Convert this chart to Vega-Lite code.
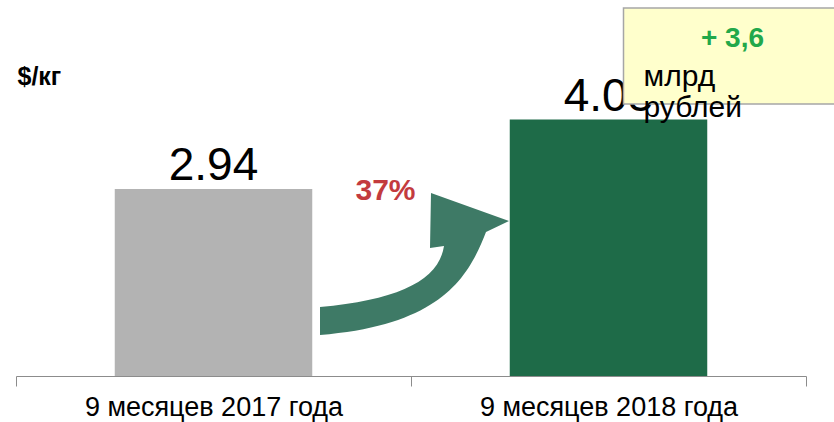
{
  "$schema": "https://vega.github.io/schema/vega-lite/v6.json",
  "width": 790,
  "height": 376,
  "autosize": {"type": "none"},
  "padding": {"left": 16, "top": 0, "right": 28, "bottom": 46},
  "background": "white",
  "config": {"view": {"stroke": null}, "font": "Liberation Sans"},
  "data": {
    "values": [
      {"period": "9 месяцев  2017 года", "value": 2.94, "year": "2017"},
      {"period": "9 месяцев 2018 года", "value": 4.03, "year": "2018"}
    ]
  },
  "layer": [
    {
      "mark": {"type": "bar", "width": {"band": 0.5}},
      "encoding": {
        "x": {
          "field": "period", "type": "nominal", "sort": null, "title": null,
          "scale": {"paddingInner": 0, "paddingOuter": 0},
          "axis": {
            "title": null, "labelAngle": 0, "tickBand": "extent", "labelLimit": 0,
            "domainColor": "#8c8c8c", "tickColor": "#8c8c8c", "tickSize": 10,
            "labelFontSize": 27, "labelColor": "#000000", "labelBaseline": "alphabetic",
            "labelPadding": 29, "labelFont": "Liberation Sans"
          }
        },
        "y": {
          "field": "value", "type": "quantitative", "title": "$/кг",
          "scale": {"domain": [0, 5.91], "nice": false},
          "axis": {
            "domain": false, "ticks": false, "labels": false, "grid": false,
            "title": "$/кг", "titleAngle": 0, "titleAlign": "left", "titleBaseline": "alphabetic",
            "titleX": 1, "titleY": 84, "titleFontSize": 25, "titleFontWeight": "bold",
            "titleColor": "#000000", "titleFont": "Liberation Sans"
          }
        },
        "color": {
          "field": "year", "type": "nominal",
          "scale": {"domain": ["2017", "2018"], "range": ["#b3b3b3", "#1e6b48"]},
          "legend": null
        }
      }
    },
    {
      "mark": {"type": "text", "fontSize": 46, "baseline": "alphabetic", "align": "center", "dy": -9, "color": "#000000"},
      "encoding": {
        "x": {"field": "period", "type": "nominal", "sort": null, "title": null},
        "y": {"field": "value", "type": "quantitative", "title": "$/кг"},
        "text": {"field": "value", "type": "quantitative", "format": ".2f"}
      }
    },
    {
      "data": {"values": [{"note": "arrow"}]},
      "mark": {
        "type": "point", "filled": true, "opacity": 1, "size": 40000, "color": "#3e7a66", "strokeWidth": 0,
        "shape": "M1.065,-0.69C1.855,-0.76,2.255,-0.96,2.305,-1.3L2.165,-1.28L2.175,-1.83L2.955,-1.55L2.725,-1.44C2.555,-1.01,2.305,-0.51,1.065,-0.41Z"
      },
      "encoding": {
        "x": {"datum": "9 месяцев  2017 года", "type": "nominal", "title": null},
        "y": {"datum": 0, "type": "quantitative", "title": "$/кг"}
      }
    },
    {
      "data": {"values": [{"note": "37%"}]},
      "mark": {"type": "text", "fontSize": 30, "fontWeight": "bold", "color": "#c33b3e", "align": "center", "baseline": "alphabetic", "dx": 172},
      "encoding": {
        "x": {"datum": "9 месяцев  2017 года", "type": "nominal", "title": null},
        "y": {"datum": 2.767, "type": "quantitative", "title": "$/кг"},
        "text": {"field": "note", "type": "nominal"}
      }
    },
    {
      "data": {"values": [{"note": "box"}]},
      "mark": {
        "type": "point", "filled": true, "opacity": 1, "size": 40000, "fill": "#ffffcc", "stroke": "#a6a6a6", "strokeWidth": 1.5,
        "shape": "M0.15,-3.68H2.4V-2.72H0.15Z"
      },
      "encoding": {
        "x": {"datum": "9 месяцев 2018 года", "type": "nominal", "title": null},
        "y": {"datum": 0, "type": "quantitative", "title": "$/кг"}
      }
    },
    {
      "data": {"values": [{"note": "+ 3,6"}]},
      "mark": {"type": "text", "fontSize": 28, "fontWeight": "bold", "color": "#22a84a", "align": "center", "baseline": "alphabetic", "dx": 124},
      "encoding": {
        "x": {"datum": "9 месяцев 2018 года", "type": "nominal", "title": null},
        "y": {"datum": 5.173, "type": "quantitative", "title": "$/кг"},
        "text": {"field": "note", "type": "nominal"}
      }
    },
    {
      "data": {"values": [{"note": "млрд\nрублей"}]},
      "mark": {"type": "text", "fontSize": 30, "color": "#000000", "align": "left", "baseline": "alphabetic", "dx": 35, "lineBreak": "\n", "lineHeight": 31},
      "encoding": {
        "x": {"datum": "9 месяцев 2018 года", "type": "nominal", "title": null},
        "y": {"datum": 4.56, "type": "quantitative", "title": "$/кг"},
        "text": {"field": "note", "type": "nominal"}
      }
    }
  ]
}
